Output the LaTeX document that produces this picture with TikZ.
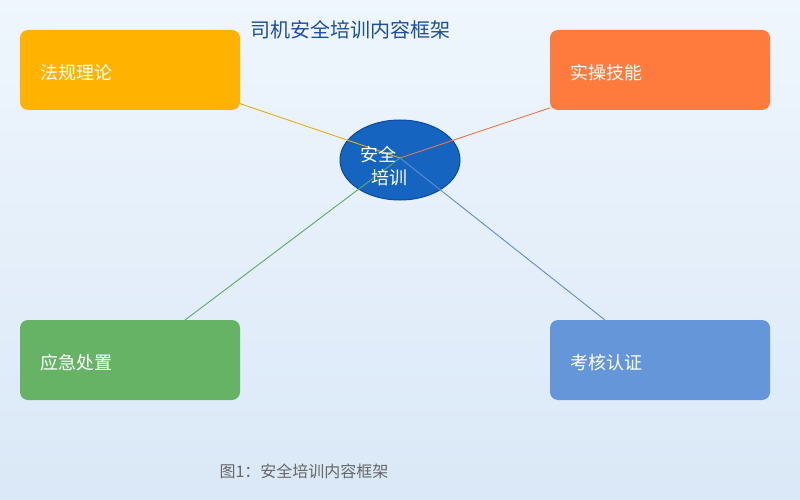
\documentclass[tikz,border=0pt]{standalone}
\usepackage{fontspec}
\setmainfont{Noto Sans CJK SC}
\usetikzlibrary{shapes.geometric}
\definecolor{bgtop}{HTML}{EFF6FD}
\definecolor{bgbot}{HTML}{DAE8F7}
\definecolor{cyellow}{HTML}{FFB300}
\definecolor{corange}{HTML}{FF7A3D}
\definecolor{cgreen}{HTML}{66B366}
\definecolor{cblue}{HTML}{6696DA}
\definecolor{lyellow}{HTML}{E8AE10}
\definecolor{lorange}{HTML}{EC7448}
\definecolor{lgreen}{HTML}{5EAA5E}
\definecolor{lblue}{HTML}{5E8ED2}
\definecolor{hubfill}{HTML}{1565C0}
\definecolor{hubdraw}{HTML}{0D47A1}
\definecolor{titlec}{HTML}{1A4FA0}
\definecolor{capc}{HTML}{666666}
\tikzset{
  topic/.style={draw=none, rounded corners=8pt, minimum width=220pt, minimum height=80pt,
    inner sep=0pt, outer sep=0pt},
  topictext/.style={text=white, font=\fontsize{18pt}{20pt}\selectfont, anchor=west, inner sep=0pt},
  link/.style={line width=0.9pt},
}
\begin{document}
\begin{tikzpicture}[x=1pt,y=-1pt]
\shade[top color=bgtop, bottom color=bgbot] (0,0) rectangle (800,500);
\useasboundingbox (0,0) rectangle (800,500);
\node[topic, fill=cyellow] (law) at (130,70) {};
\node[topic, fill=corange] (skill) at (660,70) {};
\node[topic, fill=cgreen] (emer) at (130,360) {};
\node[topic, fill=cblue] (cert) at (660,360) {};
\node[topictext] (lawt) at (40,73) {法规理论};
\node[topictext] (skillt) at (570,73) {实操技能};
\node[topictext] (emert) at (40,363) {应急处置};
\node[topictext] (certt) at (570,363) {考核认证};
\node[ellipse, draw=hubdraw, line width=1pt, fill=hubfill, minimum width=120pt, minimum height=80pt, inner sep=0pt] (hub) at (400,160) {};
\coordinate (meet) at (400,158);
\draw[link, lyellow] (law.-17) -- (meet);
\draw[link, lorange] (skill.199) -- (meet);
\draw[link, lgreen] (emer.36) -- (meet);
\draw[link, lblue] (cert.144) -- (meet);
\node[text=white, font=\fontsize{18pt}{20pt}\selectfont, inner sep=0pt] (hubt1) at (378,155) {安全};
\node[text=white, font=\fontsize{18pt}{20pt}\selectfont, inner sep=0pt] (hubt2) at (389,178) {培训};
\node[text=titlec, font=\fontsize{20pt}{22pt}\selectfont, inner sep=0pt] (title) at (350,30) {司机安全培训内容框架};
\node[text=capc, font=\fontsize{16pt}{18pt}\selectfont, inner sep=0pt] (cap) at (304,471) {图1：安全培训内容框架};
\end{tikzpicture}
\end{document}
